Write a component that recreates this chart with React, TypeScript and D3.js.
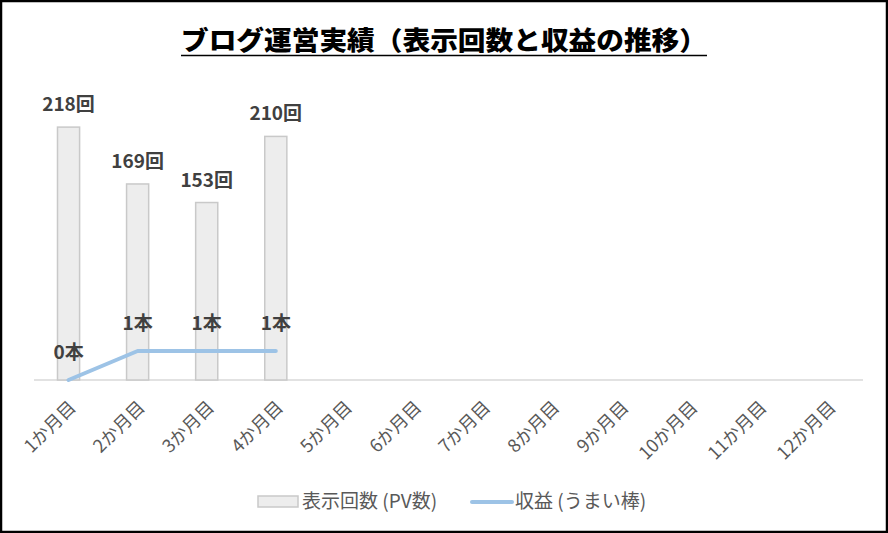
import { scaleBand, scaleLinear, line } from "d3";

const width = 888;
const height = 533;

const months = [
  "1か月目", "2か月目", "3か月目", "4か月目", "5か月目", "6か月目",
  "7か月目", "8か月目", "9か月目", "10か月目", "11か月目", "12か月目",
];
const pageViews = [218, 169, 153, 210];
const revenue = [0, 1, 1, 1];

const titleText = "ブログ運営実績（表示回数と収益の推移）";
const barLegend = "表示回数 (PV数)";
const lineLegend = "収益 (うまい棒)";

const font = "'Noto Sans CJK JP', 'Noto Sans', sans-serif";

const plot = { left: 34, right: 863, top: 90, bottom: 380 };

const App = () => {
  const xScale = scaleBand<string>()
    .domain(months)
    .range([plot.left, plot.right]);
  const yBar = scaleLinear().domain([0, 250]).range([plot.bottom, plot.top]);
  const yLine = scaleLinear().domain([0, 10]).range([plot.bottom, plot.top]);

  const cx = (i: number) => (xScale(months[i]) ?? 0) + xScale.bandwidth() / 2;
  const barW = xScale.bandwidth() * 0.32;

  const path = line<number>()
    .x((_, i) => cx(i))
    .y((d) => yLine(d))(revenue);

  const titleW = 526;

  return (
    <div style={{ position: "fixed", left: 0, top: 0 }}>
      <svg width={width} height={height} style={{ display: "block", background: "#fff" }}>
        <rect x={1} y={1} width={width - 2} height={height - 2} fill="#fff" stroke="#000" strokeWidth={2.5} />

        <text
          x={width / 2}
          y={50}
          textAnchor="middle"
          fontFamily={font}
          fontWeight="900"
          fontSize={26}
          textLength={titleW}
          lengthAdjust="spacingAndGlyphs"
          fill="#000"
        >
          {titleText}
        </text>
        <line x1={width / 2 - titleW / 2} x2={width / 2 + titleW / 2} y1={55.5} y2={55.5} stroke="#000" strokeWidth={1.5} />

        <line x1={plot.left} x2={plot.right} y1={plot.bottom} y2={plot.bottom} stroke="#d9d9d9" strokeWidth={1.5} />

        {pageViews.map((v, i) => (
          <g key={i}>
            <rect
              x={cx(i) - barW / 2}
              y={yBar(v)}
              width={barW}
              height={plot.bottom - yBar(v)}
              fill="#ededed"
              stroke="#c9c9c9"
              strokeWidth={1.5}
            />
            <text
              x={cx(i)}
              y={yBar(v) - 16}
              textAnchor="middle"
              fontFamily={font}
              fontWeight="bold"
              fontSize={19}
              fill="#404040"
            >
              {v}回
            </text>
          </g>
        ))}

        <path d={path ?? ""} fill="none" stroke="#9dc3e6" strokeWidth={4} strokeLinecap="round" strokeLinejoin="round" />
        {revenue.map((v, i) => (
          <text
            key={i}
            x={cx(i)}
            y={yLine(v) - 21}
            textAnchor="middle"
            fontFamily={font}
            fontWeight="bold"
            fontSize={19}
            fill="#404040"
          >
            {v}本
          </text>
        ))}

        {months.map((m, i) => (
          <text
            key={m}
            transform={`translate(${cx(i) + 4},${plot.bottom + 24}) rotate(-45)`}
            textAnchor="end"
            dy="0.35em"
            fontFamily={font}
            fontSize={18}
            fill="#595959"
          >
            {m}
          </text>
        ))}

        <rect x={258} y={496} width={40} height={11} fill="#ededed" stroke="#c9c9c9" strokeWidth={1.5} />
        <text x={302} y={508} fontFamily={font} fontSize={19} fill="#595959">
          {barLegend}
        </text>
        <line x1={472} x2={512} y1={502} y2={502} stroke="#9dc3e6" strokeWidth={4} strokeLinecap="round" />
        <text x={515} y={508} fontFamily={font} fontSize={19} fill="#595959">
          {lineLegend}
        </text>
      </svg>
    </div>
  );
};

export default App;
